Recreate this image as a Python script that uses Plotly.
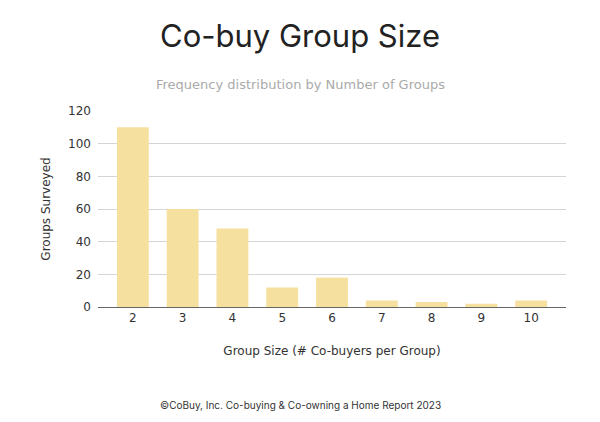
import plotly.graph_objects as go

group_sizes = ["2", "3", "4", "5", "6", "7", "8", "9", "10"]
groups_surveyed = [110, 60, 48, 12, 18, 4, 3, 2, 4]
y_ticks = [0, 20, 40, 60, 80, 100, 120]

W, H = 600, 422
ML, MR, MT, MB = 98, 34, 111, 115
page_center_x = (W / 2 - ML) / (W - ML - MR)

fig = go.Figure()
fig.add_trace(go.Bar(
    x=group_sizes, y=groups_surveyed,
    marker=dict(color="#F6E0A0", line=dict(width=0)),
    width=0.64,
    hoverinfo="x+y",
))

fig.update_layout(
    width=W, height=H,
    paper_bgcolor="white", plot_bgcolor="white",
    margin=dict(l=ML, r=MR, t=MT, b=MB),
    showlegend=False,
    title=dict(text="Co-buy Group Size", x=0.5, xanchor="center", y=0.915, yanchor="middle",
               font=dict(family="Inter", size=31, color="#222222")),
    annotations=[
        dict(text="Frequency distribution by Number of Groups", xref="paper", yref="paper",
             x=page_center_x, y=1.0, yshift=27, xanchor="center", yanchor="middle", showarrow=False,
             font=dict(family="DejaVu Sans", size=13, color="#aaaaaa")),
        dict(text="©CoBuy, Inc. Co-buying &amp; Co-owning a Home Report 2023", xref="paper", yref="paper",
             x=page_center_x, y=0, yshift=-98, xanchor="center", yanchor="middle", showarrow=False,
             font=dict(family="Inter", size=10, color="#333333")),
    ],
    xaxis=dict(
        type="category", range=[-0.7, 8.7],
        showgrid=False, showline=True, linecolor="#666666", linewidth=1,
        ticks="", tickfont=dict(family="DejaVu Sans", size=12, color="#333333"),
        title=dict(text="Group Size (# Co-buyers per Group)", standoff=22,
                   font=dict(family="DejaVu Sans", size=12, color="#333333")),
    ),
    yaxis=dict(
        range=[0, 120], tickvals=y_ticks,
        showgrid=True, gridcolor="#d5d5d5", gridwidth=1,
        zeroline=False, showline=False, ticks="",
        ticklabelstandoff=6,
        tickfont=dict(family="DejaVu Sans", size=12, color="#333333"),
        title=dict(text="Groups Surveyed", standoff=14,
                   font=dict(family="DejaVu Sans", size=12, color="#333333")),
    ),
    bargap=0.36,
)

fig.write_html("out.html")
